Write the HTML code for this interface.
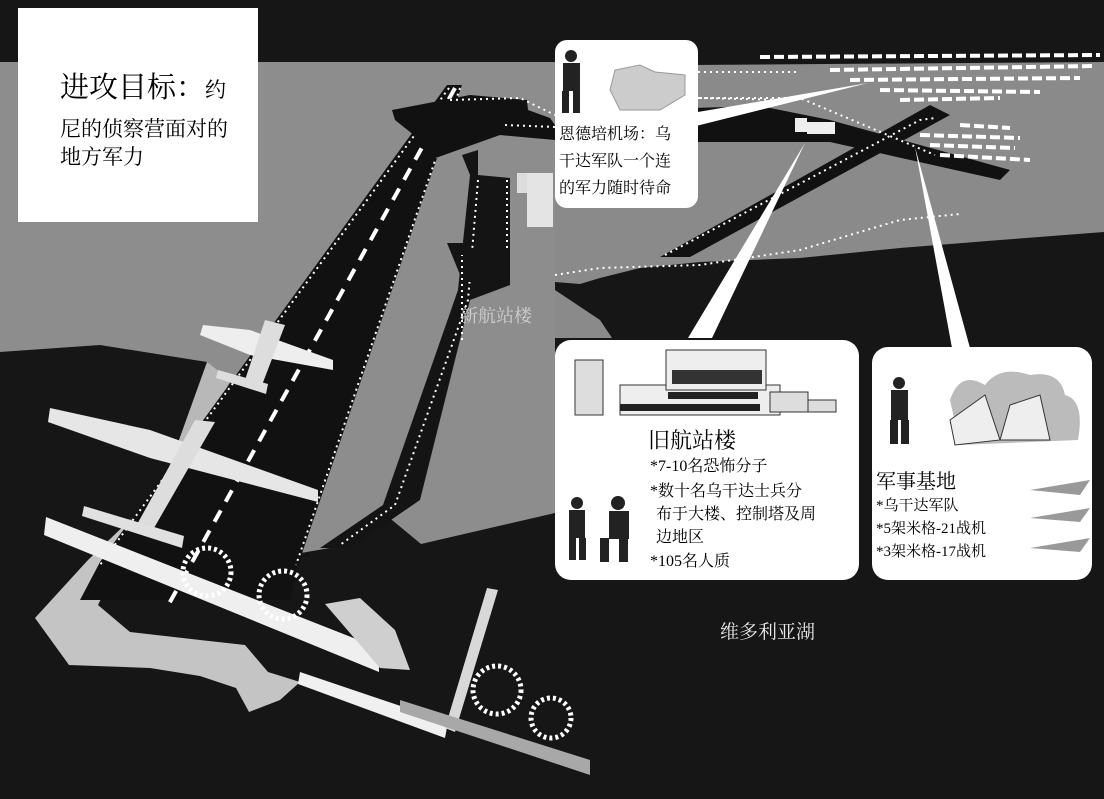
<!DOCTYPE html>
<html><head><meta charset="utf-8"><style>
html,body{margin:0;padding:0;background:#111;}
svg{display:block}
text{font-family:"Liberation Serif","Noto Serif CJK SC",serif;}
</style></head><body>
<svg width="1104" height="799" viewBox="0 0 1104 799" xmlns="http://www.w3.org/2000/svg">
<rect width="1104" height="799" fill="#161616"/>
<polygon points="0,62 555,62 555,513 421,544 380,510 330,548 260,560 230,430 207,362 100,345 0,352" fill="#8d8d8d"/>
<polygon points="555,66 1104,62 1104,232 1000,240 900,248 800,258 700,262 640,268 600,278 580,284 555,282" fill="#8a8a8a"/>
<polygon points="555,290 570,300 600,320 612,338 555,338" fill="#8a8a8a"/>
<polygon points="35,618 88,560 130,520 161,490 190,470 175,520 120,560 98,605 130,632 200,640 245,645 268,672 300,682 280,700 249,712 236,688 200,676 150,668 69,665" fill="#c4c4c4"/>
<polygon points="161,490 207,362 230,380 190,470" fill="#b8b8b8"/>
<polygon points="447,85 462,85 298,565 290,600 80,600 100,562" fill="#111"/>
<line x1="455" y1="88" x2="165" y2="611" stroke="#fff" stroke-width="4" stroke-dasharray="13,10"/>
<line x1="449" y1="88" x2="100" y2="565" stroke="#fff" stroke-width="2" stroke-dasharray="2,4"/>
<line x1="460" y1="88" x2="296" y2="565" stroke="#fff" stroke-width="2" stroke-dasharray="2,4"/>
<polygon points="392,110 470,95 527,100 528,110 550,118 555,125 555,140 500,135 430,160 420,140 395,120" fill="#111"/>
<polyline points="450,100 520,98 555,115" stroke="#fff" stroke-width="2" stroke-dasharray="2,4" fill="none"/>
<polyline points="505,125 555,127" stroke="#fff" stroke-width="2" stroke-dasharray="2,4" fill="none"/>
<polygon points="462,155 478,150 478,175 510,178 510,285 470,300 420,500 350,548 320,548 383,505 458,290 470,175" fill="#141414"/>
<polyline points="478,180 468,300 395,505 340,545" stroke="#fff" stroke-width="2" stroke-dasharray="2,4" fill="none"/>
<polyline points="507,180 507,282" stroke="#fff" stroke-width="2" stroke-dasharray="2,4" fill="none"/>
<polygon points="447,243 463,243 463,250 509,250 509,282 463,282" fill="#141414"/>
<polyline points="462,340 462,255" stroke="#fff" stroke-width="2" stroke-dasharray="2,4" fill="none"/>
<rect x="517" y="173" width="20" height="20" fill="#ddd"/>
<rect x="527" y="173" width="26" height="54" fill="#e4e4e4"/>
<!-- planes -->
<polygon points="203,325 250,330 333,360 333,370 250,355 200,335" fill="#eee"/>
<polygon points="265,320 285,325 262,385 245,380" fill="#ddd"/>
<polygon points="218,370 268,384 266,394 216,378" fill="#ddd"/>
<polygon points="50,408 150,430 318,490 318,502 150,458 48,422" fill="#e6e6e6"/>
<polygon points="195,420 215,422 150,535 135,528" fill="#ddd"/>
<polygon points="84,506 184,536 182,548 82,516" fill="#e0e0e0"/>
<polygon points="46,517 379,648 379,672 44,535" fill="#efefef"/>
<polygon points="325,604 360,598 395,630 410,670 380,668" fill="#cfcfcf"/>
<polygon points="300,672 448,722 445,738 298,684" fill="#f0f0f0"/>
<polygon points="487,588 498,590 455,732 445,728" fill="#d8d8d8"/>
<polygon points="400,700 590,760 590,775 400,712" fill="#a8a8a8"/>
<g fill="none" stroke="#fff" stroke-width="5" stroke-dasharray="3,3">
<circle cx="207" cy="572" r="24"/>
<circle cx="283" cy="595" r="24"/>
<circle cx="497" cy="690" r="24"/>
<circle cx="551" cy="718" r="20"/>
</g>
<polygon points="692,108 760,106 830,120 1010,170 1000,180 830,142 692,142" fill="#111"/>
<polygon points="660,257 690,257 950,115 930,105" fill="#111"/>
<polyline points="700,98 800,98 935,155" stroke="#fff" stroke-width="2" stroke-dasharray="2,4" fill="none"/>
<polyline points="665,255 920,120 935,118" stroke="#fff" stroke-width="2" stroke-dasharray="2,4" fill="none"/>
<polyline points="555,275 600,268 700,265 800,250 900,220 960,214" stroke="#fff" stroke-width="2" stroke-dasharray="2,4" fill="none"/>
<polyline points="698,72 800,72" stroke="#fff" stroke-width="2" stroke-dasharray="2,4" fill="none"/>
<polyline points="698,98 790,100" stroke="#fff" stroke-width="2" stroke-dasharray="2,4" fill="none"/>
<g stroke="#fff" stroke-width="4" stroke-dasharray="10,4">
<line x1="760" y1="57" x2="1100" y2="55"/><line x1="830" y1="70" x2="1095" y2="66"/><line x1="850" y1="80" x2="1080" y2="78"/><line x1="880" y1="90" x2="1040" y2="92"/><line x1="900" y1="100" x2="1000" y2="98"/>
<line x1="920" y1="135" x2="1020" y2="138"/><line x1="930" y1="145" x2="1015" y2="148"/><line x1="940" y1="155" x2="1030" y2="160"/><line x1="960" y1="125" x2="1010" y2="128"/>
</g>
<rect x="795" y="118" width="12" height="14" fill="#eee"/>
<rect x="807" y="122" width="28" height="12" fill="#eee"/>
<polygon points="692,113 868,83 692,127" fill="#fff"/>
<polygon points="688,338 712,338 805,143" fill="#fff"/>
<polygon points="952,348 970,348 915,147" fill="#fff"/>
<rect x="18" y="8" width="240" height="214" fill="#fff"/>
<text x="60" y="97" font-size="29">进攻目标：<tspan font-size="21">约</tspan></text>
<text x="60" y="136" font-size="21">尼的侦察营面对的</text>
<text x="60" y="164" font-size="21">地方军力</text>
<rect x="555" y="40" width="143" height="168" rx="12" fill="#fff"/>
<g fill="#222"><circle cx="571" cy="56" r="6"/><rect x="563" y="63" width="17" height="28"/><rect x="562" y="91" width="7" height="22"/><rect x="573" y="91" width="7" height="22"/></g>
<polygon points="610,90 615,70 640,65 655,72 685,75 685,95 660,110 620,110" fill="#ccc" stroke="#999"/>
<text x="559" y="139" font-size="16">恩德培机场：乌</text>
<text x="559" y="166" font-size="16">干达军队一个连</text>
<text x="559" y="193" font-size="16">的军力随时待命</text>
<rect x="555" y="340" width="304" height="240" rx="16" fill="#fff"/>
<rect x="575" y="360" width="28" height="55" fill="#ddd" stroke="#333"/>
<rect x="620" y="385" width="160" height="30" fill="#eee" stroke="#333"/>
<rect x="666" y="350" width="100" height="40" fill="#eee" stroke="#333"/>
<rect x="672" y="370" width="90" height="14" fill="#333"/>
<g fill="#222"><rect x="668" y="392" width="90" height="7"/><rect x="620" y="404" width="140" height="7"/></g>
<rect x="770" y="392" width="38" height="20" fill="#ddd" stroke="#333"/>
<rect x="808" y="400" width="28" height="12" fill="#ddd" stroke="#333"/>
<text x="648" y="448" font-size="22">旧航站楼</text>
<text x="650" y="471" font-size="16">*7-10名恐怖分子</text>
<text x="650" y="496" font-size="16">*数十名乌干达士兵分</text>
<text x="656" y="519" font-size="16">布于大楼、控制塔及周</text>
<text x="656" y="542" font-size="16">边地区</text>
<text x="650" y="566" font-size="16">*105名人质</text>
<g fill="#222"><circle cx="577" cy="503" r="6"/><rect x="569" y="510" width="16" height="28"/><rect x="569" y="538" width="7" height="22"/><rect x="579" y="538" width="7" height="22"/>
<circle cx="618" cy="503" r="7"/><rect x="609" y="511" width="20" height="28"/><rect x="600" y="538" width="9" height="24"/><rect x="619" y="538" width="9" height="24"/></g>
<rect x="872" y="347" width="220" height="233" rx="16" fill="#fff"/>
<g fill="#222"><circle cx="899" cy="383" r="6"/><rect x="891" y="390" width="17" height="30"/><rect x="890" y="420" width="8" height="24"/><rect x="901" y="420" width="8" height="24"/></g>
<path d="M950,400 Q960,370 985,385 Q1000,365 1030,375 Q1060,370 1065,395 Q1085,400 1078,440 L960,445 Z" fill="#bbb"/>
<polygon points="950,420 985,395 1000,440 955,445" fill="#eee" stroke="#333"/>
<polygon points="1000,440 1010,405 1040,395 1050,440" fill="#eee" stroke="#333"/>
<text x="876" y="488" font-size="20">军事基地</text>
<text x="876" y="510" font-size="15">*乌干达军队</text>
<text x="876" y="533" font-size="15">*5架米格-21战机</text>
<text x="876" y="556" font-size="15">*3架米格-17战机</text>
<g fill="#999"><polygon points="1030,490 1090,480 1080,495"/><polygon points="1030,518 1090,508 1080,522"/><polygon points="1030,548 1090,538 1080,552"/></g>
<text x="460" y="322" font-size="18" fill="#d0d0d0">新航站楼</text>
<text x="720" y="638" font-size="19" fill="#e8e8e8">维多利亚湖</text>
</svg>
</body></html>
